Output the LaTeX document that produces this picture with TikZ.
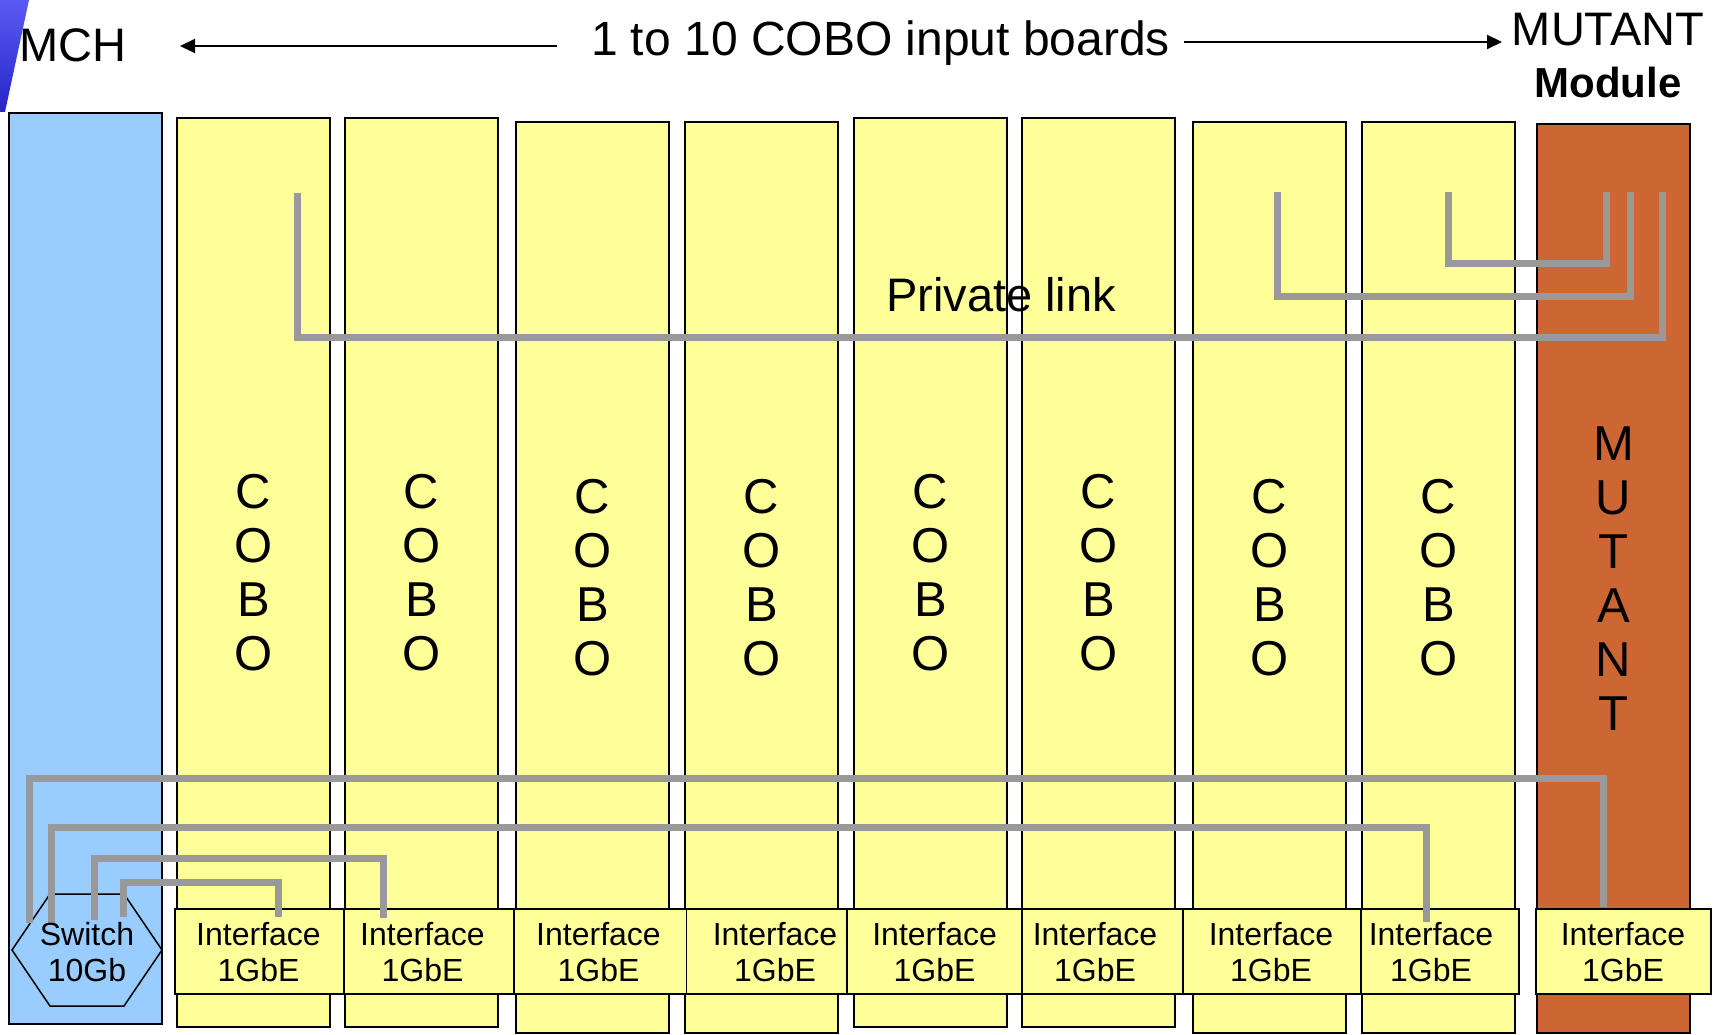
\documentclass[tikz,border=0pt]{standalone}
\usepackage{fontspec}
\setmainfont{Liberation Sans}
\usetikzlibrary{arrows.meta}
\definecolor{mchblue}{HTML}{99CCFF}
\definecolor{coboyel}{HTML}{FFFF99}
\definecolor{mutorange}{HTML}{CC6633}
\definecolor{linkgray}{HTML}{999999}
\definecolor{decotop}{HTML}{5A5AF2}
\definecolor{decobot}{HTML}{2626C8}
\newcommand{\mybigfont}{\fontsize{47}{56}\selectfont}
\begin{document}
\begin{tikzpicture}[x=1pt,y=-1pt,
  board/.style={draw=black, line width=1.8pt, inner sep=0pt, minimum width=153pt, align=center, font=\fontsize{49}{54}\selectfont},
  iface/.style={draw=black, line width=1.8pt, fill=coboyel, minimum height=85pt, inner sep=0pt},
  ifacetext/.style={align=center, inner sep=0pt, font=\fontsize{32}{36}\selectfont},
  link/.style={draw=linkgray, line width=7pt},
  bigtext/.style={inner sep=0pt, anchor=base, font=\mybigfont},
  arr/.style={draw=black, line width=2pt, -{Triangle[length=15pt,width=14pt]}}
]
\useasboundingbox (0,0) rectangle (1714,1035);

% decorative corner
\shade[top color=decotop, bottom color=decobot] (0,0) -- (29,0) -- (5,112) -- (0,112) -- cycle;

% boards
\node[board, fill=mchblue, minimum height=911pt] (mch) at (85.5,568.5) {};
\node[board, fill=coboyel, minimum height=909pt] (cobo1) at (253.5,572.5) {C\\O\\B\\O};
\node[board, fill=coboyel, minimum height=909pt] (cobo2) at (421.5,572.5) {C\\O\\B\\O};
\node[board, fill=coboyel, minimum height=911pt] (cobo3) at (592.5,577.5) {C\\O\\B\\O};
\node[board, fill=coboyel, minimum height=911pt] (cobo4) at (761.5,577.5) {C\\O\\B\\O};
\node[board, fill=coboyel, minimum height=909pt] (cobo5) at (930.5,572.5) {C\\O\\B\\O};
\node[board, fill=coboyel, minimum height=909pt] (cobo6) at (1098.5,572.5) {C\\O\\B\\O};
\node[board, fill=coboyel, minimum height=911pt] (cobo7) at (1269.5,577.5) {C\\O\\B\\O};
\node[board, fill=coboyel, minimum height=911pt] (cobo8) at (1438.5,577.5) {C\\O\\B\\O};
\node[board, fill=mutorange, minimum height=909pt] (mutant) at (1613.5,578.5) {M\\U\\T\\A\\N\\T};

% headings
\node[bigtext] (mchlabel) at (73,62) {MCH};
\node[bigtext, font=\fontsize{48}{56}\selectfont] (title) at (880.5,55.5) {1 to 10 COBO input boards};
\node[bigtext] (mutlabel) at (1608,45.5) {MUTANT};
\node[bigtext, font=\fontsize{42}{50}\selectfont\bfseries] (modlabel) at (1608,97.5) {Module};
\coordinate (la0) at (557,46);
\coordinate (la1) at (180,46);
\coordinate (ra0) at (1184,42);
\coordinate (ra1) at (1502,42);
\draw[arr] (la0) -- (la1);
\draw[arr] (ra0) -- (ra1);

\node[bigtext] (private) at (1001,312) {Private link};

% switch and interfaces
\draw[fill=mchblue, line width=1.5pt] (12,950) -- (50,894) -- (124,894) -- (162,950) -- (124,1006) -- (50,1006) -- cycle;
\node[iface, minimum width=169pt] (if1) at (259.5,951.5) {};
\node[iface, minimum width=170pt] (if2) at (429,951.5) {};
\node[iface, minimum width=172.5pt] (if3) at (600.25,951.5) {};
\node[iface, minimum width=160.5pt] (if4) at (766.75,951.5) {};
\node[iface, minimum width=175pt] (if5) at (934.5,951.5) {};
\node[iface, minimum width=161pt] (if6) at (1102.5,951.5) {};
\node[iface, minimum width=178pt] (if7) at (1272,951.5) {};
\node[iface, minimum width=158pt] (if8) at (1440,951.5) {};
\node[iface, minimum width=175pt] (if9) at (1623.5,951.5) {};

% link levels and ports
\coordinate (yP1) at (0,337);
\coordinate (yP2) at (0,296);
\coordinate (yP3) at (0,264);
\coordinate (yB1) at (0,778);
\coordinate (yB2) at (0,827);
\coordinate (yB3) at (0,858);
\coordinate (yB4) at (0,882);

\coordinate (c1p) at (297,193);
\coordinate (c7p) at (1277,192);
\coordinate (c8p) at (1448,192);
\coordinate (m1p) at (1662,192);
\coordinate (m2p) at (1630,192);
\coordinate (m3p) at (1606,192);

\coordinate (s1) at (29,923);
\coordinate (s2) at (51,923);
\coordinate (s3) at (94,920);
\coordinate (s4) at (123,917);
\coordinate (i9p) at (1603,907);
\coordinate (i8p) at (1426,922);
\coordinate (i2p) at (383,918);
\coordinate (i1p) at (278,917);

% private links
\draw[link] (c1p) -- (c1p |- yP1) -- (m1p |- yP1) -- (m1p);
\draw[link] (c7p) -- (c7p |- yP2) -- (m2p |- yP2) -- (m2p);
\draw[link] (c8p) -- (c8p |- yP3) -- (m3p |- yP3) -- (m3p);

% ethernet links
\draw[link] (s1) -- (s1 |- yB1) -- (i9p |- yB1) -- (i9p);
\draw[link] (s2) -- (s2 |- yB2) -- (i8p |- yB2) -- (i8p);
\draw[link] (s3) -- (s3 |- yB3) -- (i2p |- yB3) -- (i2p);
\draw[link] (s4) -- (s4 |- yB4) -- (i1p |- yB4) -- (i1p);

% texts
\node[ifacetext] (switch) at (87,952) {Switch\\10Gb};
\node[ifacetext] (t1) at (258.5,952) {Interface\\1GbE};
\node[ifacetext] (t2) at (422.5,952) {Interface\\1GbE};
\node[ifacetext] (t3) at (598.5,952) {Interface\\1GbE};
\node[ifacetext] (t4) at (775,952) {Interface\\1GbE};
\node[ifacetext] (t5) at (934.6,952) {Interface\\1GbE};
\node[ifacetext] (t6) at (1095,952) {Interface\\1GbE};
\node[ifacetext] (t7) at (1271,952) {Interface\\1GbE};
\node[ifacetext] (t8) at (1431,952) {Interface\\1GbE};
\node[ifacetext] (t9) at (1623,952) {Interface\\1GbE};
\end{tikzpicture}
\end{document}
